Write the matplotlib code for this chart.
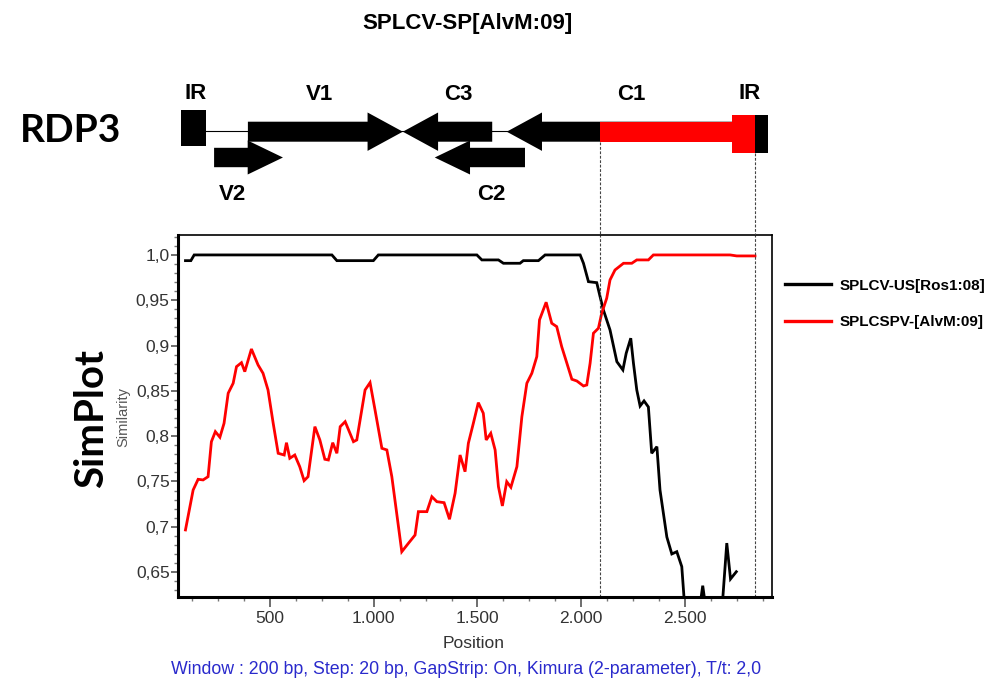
import numpy as np
import matplotlib.pyplot as plt
from matplotlib.patches import Polygon, Rectangle
from matplotlib.lines import Line2D

# SimPlot similarity profiles (query SPLCV-SP[AlvM:09])
pos_us = [92, 118, 134, 798, 822, 998, 1022, 1497, 1521, 1601, 1625, 1705, 1721,
          1794, 1826, 1995, 2011, 2035, 2075, 2091, 2107, 2139, 2172, 2201, 2217,
          2239, 2252, 2268, 2284, 2303, 2324, 2340, 2365, 2380, 2413, 2437, 2461,
          2485, 2498, 2520, 2560, 2577, 2586, 2595, 2615, 2660, 2683, 2702, 2720, 2748]
sim_us = [0.9937, 0.9937, 1.0, 1.0, 0.9937, 0.9937, 1.0, 1.0, 0.9945, 0.9945, 0.9908,
          0.9908, 0.9937, 0.9937, 1.0, 1.0, 0.9908, 0.9705, 0.9694, 0.954, 0.9393,
          0.9172, 0.8822, 0.8731, 0.8915, 0.9081, 0.8805, 0.851, 0.8333, 0.8389,
          0.8322, 0.7811, 0.7884, 0.7406, 0.6887, 0.67, 0.6725, 0.656, 0.615, 0.60,
          0.60, 0.62, 0.635, 0.62, 0.60, 0.60, 0.622, 0.682, 0.6424, 0.6504]

pos_sp = [92, 129, 153, 177, 201, 217, 236, 258, 278, 298, 322, 338, 362, 378, 410,
          442, 466, 490, 515, 539, 568, 579, 595, 619, 643, 664, 683, 716, 740, 764,
          781, 802, 822, 838, 862, 902, 918, 958, 982, 1006, 1039, 1063, 1087, 1135,
          1167, 1199, 1215, 1256, 1280, 1304, 1339, 1365, 1392, 1416, 1440, 1456,
          1480, 1504, 1528, 1542, 1564, 1585, 1601, 1620, 1641, 1661, 1690, 1714,
          1738, 1762, 1786, 1799, 1831, 1858, 1882, 1906, 1931, 1955, 1979, 2011,
          2027, 2043, 2059, 2083, 2099, 2123, 2139, 2163, 2204, 2244, 2268, 2324,
          2348, 2718, 2750, 2838]
sim_sp = [0.6965, 0.7406, 0.7524, 0.7517, 0.7553, 0.7939, 0.805, 0.7988, 0.8142,
          0.8474, 0.8584, 0.8767, 0.8811, 0.8712, 0.8962, 0.8786, 0.8694, 0.851,
          0.8142, 0.7811, 0.7792, 0.7928, 0.7756, 0.7792, 0.7663, 0.7509, 0.7553,
          0.8105, 0.7958, 0.7745, 0.7737, 0.7928, 0.7811, 0.8105, 0.816, 0.7939,
          0.7958, 0.851, 0.8591, 0.8289, 0.7866, 0.7848, 0.7553, 0.6725, 0.6818,
          0.6909, 0.7167, 0.7167, 0.7332, 0.7277, 0.7266, 0.7083, 0.737, 0.7792,
          0.7608, 0.7922, 0.8142, 0.837, 0.8253, 0.7958, 0.8032, 0.7848, 0.7443,
          0.723, 0.7498, 0.7436, 0.7663, 0.8215, 0.8584, 0.8694, 0.8878, 0.9283,
          0.9478, 0.9246, 0.9209, 0.8988, 0.8805, 0.8628, 0.8609, 0.8554, 0.8565,
          0.8805, 0.9136, 0.9191, 0.9357, 0.9522, 0.9724, 0.9834, 0.9908, 0.9908,
          0.9945, 0.9945, 1.0, 1.0, 0.9989, 0.9989]

series_names = ['SPLCV-US[Ros1:08]', 'SPLCSPV-[AlvM:09]']
series_colors = ['black', 'red']

# genome map (positions in bp)
gene_names = ['V1', 'C3', 'C1', 'V2', 'C2']
gene_start = [393, 1571, 2729, 230, 1729]
gene_tip = [1140, 1140, 1641, 562, 1294]
gene_row = [0, 0, 0, 1, 1]
gene_label_x = [740, 1406, 2241, 318, 1566]
ir_left = (70, 190)
ir_right = (2729, 2901)
breakpoints = [2092, 2836]

yticks = [0.65, 0.7, 0.75, 0.8, 0.85, 0.9, 0.95, 1.0]
ytick_labels = ['0,65', '0,7', '0,75', '0,8', '0,85', '0,9', '0,95', '1,0']
xticks = [500, 1000, 1500, 2000, 2500]
xtick_labels = ['500', '1.000', '1.500', '2.000', '2.500']

plt.rcParams['font.family'] = ['Liberation Sans', 'DejaVu Sans']

fig = plt.figure(figsize=(10, 6.89), dpi=100)
W, H = 1000, 689

def fx(x):
    return x / W

def fy(y):
    return 1 - y / H

# --- similarity plot ---
ax = fig.add_axes([fx(178), fy(597), fx(772) - fx(178), fy(235) - fy(597)])
ax.plot(pos_us, sim_us, color=series_colors[0], lw=2.0, solid_joinstyle='miter')
ax.plot(pos_sp, sim_sp, color=series_colors[1], lw=2.0, solid_joinstyle='miter')
for b in breakpoints:
    ax.axvline(b, color='#444444', lw=0.8, ls=(0, (2.5, 1.5)))
ax.set_xlim(56, 2920)
ax.set_ylim(0.6225, 1.022)
ax.set_yticks(yticks)
ax.set_yticklabels(ytick_labels)
ax.set_xticks(xticks)
ax.set_xticklabels(xtick_labels)
ax.set_yticks(np.arange(0.63, 1.021, 0.01), minor=True)
ax.set_xticks(np.arange(125, 2920, 125), minor=True)
ax.tick_params(axis='both', which='major', labelsize=12.5, labelcolor='#333333',
               color='#555555', width=1.2)
ax.tick_params(axis='y', which='major', length=5, pad=1)
ax.tick_params(axis='x', which='major', length=7, pad=3)
ax.tick_params(axis='both', which='minor', length=3, color='#777777', width=1)
for s in ['left', 'bottom']:
    ax.spines[s].set_linewidth(2.2)
for s in ['top', 'right']:
    ax.spines[s].set_linewidth(1.2)

fig.text(fx(474), fy(643), 'Position', ha='center', va='center', fontsize=12.5,
         color='#333333')
fig.text(fx(123), fy(417), 'Similarity', ha='center', va='center', fontsize=10.5,
         color='#555555', rotation=90)

handles = [Line2D([], [], color=c, lw=2.4) for c in series_colors]
fig.legend(handles, series_names, loc='center left',
           bbox_to_anchor=(fx(785), fy(304)), frameon=False,
           prop={'weight': 'bold', 'size': 11}, handlelength=3.0,
           handletextpad=0.6, labelspacing=1.5, borderpad=0, borderaxespad=0)

# --- genome map ---
gx = fig.add_axes([fx(178), fy(235), fx(772) - fx(178), fy(75) - fy(235)])
gx.set_xlim(ax.get_xlim())
gx.set_ylim(235, 75)
gx.axis('off')

row_y = [131.7, 157.5]
body_h = [10, 9.7]
head_h = [19.2, 17]
head_len = 170

gx.plot([ir_left[1], ir_right[0]], [130.7, 130.7], color='black', lw=0.8, zorder=1)

for name, st, tip, r in zip(gene_names, gene_start, gene_tip, gene_row):
    yc, bh, hh = row_y[r], body_h[r], head_h[r]
    d = 1 if tip > st else -1
    base = tip - d * head_len
    pts = [(st, yc - bh), (base, yc - bh), (base, yc - hh), (tip, yc),
           (base, yc + hh), (base, yc + bh), (st, yc + bh)]
    gx.add_patch(Polygon(pts, closed=True, facecolor='black', edgecolor='none', zorder=2))

# recombinant part of C1 body
c1 = gene_names.index('C1')
gx.add_patch(Rectangle((breakpoints[0], row_y[0] - body_h[0]),
                       gene_start[c1] - breakpoints[0], 2 * body_h[0],
                       facecolor='red', edgecolor='none', zorder=3))

gx.add_patch(Rectangle((ir_left[0], 110), ir_left[1] - ir_left[0], 36,
                       facecolor='black', edgecolor='none', zorder=3))
gx.add_patch(Rectangle((ir_right[0], 115), ir_right[1] - ir_right[0], 37.7,
                       facecolor='black', edgecolor='none', zorder=3))
gx.add_patch(Rectangle((ir_right[0], 115), breakpoints[1] - ir_right[0], 37.7,
                       facecolor='red', edgecolor='none', zorder=4))

gx.plot([breakpoints[0]] * 2, [141.7, 235], color='#444444', lw=0.8,
        ls=(0, (2.5, 1.5)))
gx.plot([breakpoints[1]] * 2, [152.7, 235], color='#444444', lw=0.8,
        ls=(0, (2.5, 1.5)))

label_y = [95, 195]
for name, lx, r in zip(gene_names, gene_label_x, gene_row):
    gx.text(lx, label_y[r], name, ha='center', va='center', fontsize=16,
            fontweight='bold')
gx.text(139, 93.3, 'IR', ha='center', va='center', fontsize=16, fontweight='bold')
gx.text(2813, 93.3, 'IR', ha='center', va='center', fontsize=16, fontweight='bold')

# --- titles and annotations ---
fig.text(fx(467), fy(23), 'SPLCV-SP[AlvM:09]', ha='center', va='center',
         fontsize=16, fontweight='bold')
fig.text(fx(71), fy(131), 'RDP3', ha='center', va='center', fontsize=28,
         fontweight='bold', family='Lato')
fig.text(fx(92), fy(418), 'SimPlot', ha='center', va='center', fontsize=29,
         fontweight='bold', family='Lato', rotation=90)
fig.text(fx(466), fy(670),
         'Window : 200 bp, Step: 20 bp, GapStrip: On, Kimura (2-parameter), T/t: 2,0',
         ha='center', va='center', fontsize=12.8, color='#2a2acc')

fig.savefig('out.png', dpi=100)
